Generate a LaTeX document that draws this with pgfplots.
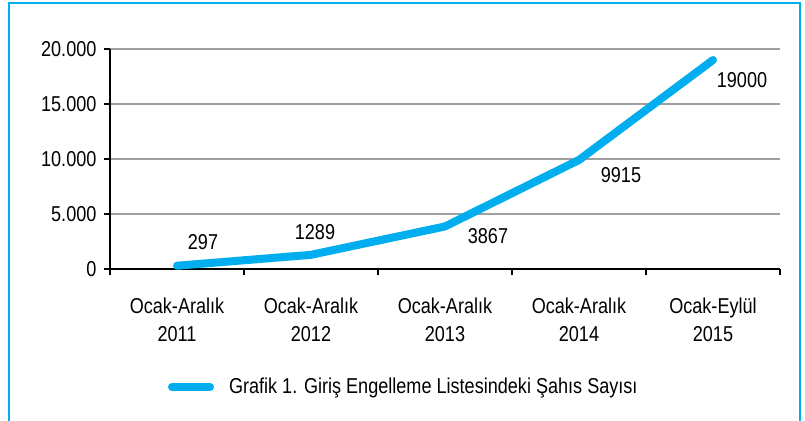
\documentclass[border=0pt]{standalone}
\usepackage{fontspec}
\setmainfont{Liberation Sans}[FakeStretch=0.84]
\usepackage{pgfplots}
\usepackage{pgfplotstable}
\pgfplotsset{compat=1.18}
\definecolor{cyanline}{RGB}{0,174,239}
\definecolor{gridgray}{RGB}{160,160,160}

% x = category index, dx/dy = label offset in bp
\pgfplotstableread{
x y dx dy
1 297 13 12
2 1289 2 11.5
3 3867 21.5 -5
4 9915 21 -7.5
5 19000 14.5 -10
}\datatable

\begin{document}
\fontsize{10.8}{13.5}\selectfont
\begin{tikzpicture}[x=1bp,y=1bp]
\useasboundingbox (0,0) rectangle (402.5,210.5);
\draw[cyanline, line width=1.2bp] (4.5,-3) -- (4.5,209) -- (400,209) -- (400,-3);
\begin{axis}[
  at={(55bp,76bp)}, anchor=south west,
  width=335bp, height=110bp, scale only axis,
  xmin=0.5, xmax=5.5, ymin=0, ymax=20000,
  clip=false,
  axis x line=bottom, axis y line=left,
  axis line style={-, black, line width=0.8bp},
  tick align=outside, major tick length=3bp,
  tick style={black, line width=0.6bp},
  xtick={0.5,1.5,...,5.5}, xticklabels={},
  extra x ticks={1,2,3,4,5},
  extra x tick labels={{Ocak-Aralık\\2011},{Ocak-Aralık\\2012},{Ocak-Aralık\\2013},{Ocak-Aralık\\2014},{Ocak-Eylül\\2015}},
  extra x tick style={major tick length=0pt, tick style={draw=none}},
  xticklabel style={align=center, yshift=-10.5bp, font=\fontsize{10.8}{14.4}\selectfont},
  ytick={0,5000,10000,15000,20000},
  scaled y ticks=false,
  ymajorgrids, grid style={gridgray, line width=0.6bp},
  yticklabel style={/pgf/number format/.cd, 1000 sep={.}, assume math mode=true},
  legend style={at={(axis description cs:0.0866,-0.536)}, anchor=west,
    draw=none, fill=none, inner sep=0pt, outer sep=0pt},
  legend image code/.code={\draw[#1, line width=4bp, line cap=round] (0bp,0bp) -- (19bp,0bp);
    \path (24.5bp,0bp);},
]
\addplot[cyanline, line width=4bp, line cap=round, line join=round, mark=none,
  nodes near coords, point meta=explicit symbolic,
  visualization depends on={\thisrow{dx} \as \dx},
  visualization depends on={\thisrow{dy} \as \dy},
  every node near coord/.append style={black, anchor=center, xshift=\dx bp, yshift=\dy bp}]
  table[x=x, y=y, meta=y] {\datatable};
\addlegendentry{Grafik 1. Giriş Engelleme Listesindeki Şahıs Sayısı}
\end{axis}
\end{tikzpicture}
\end{document}
